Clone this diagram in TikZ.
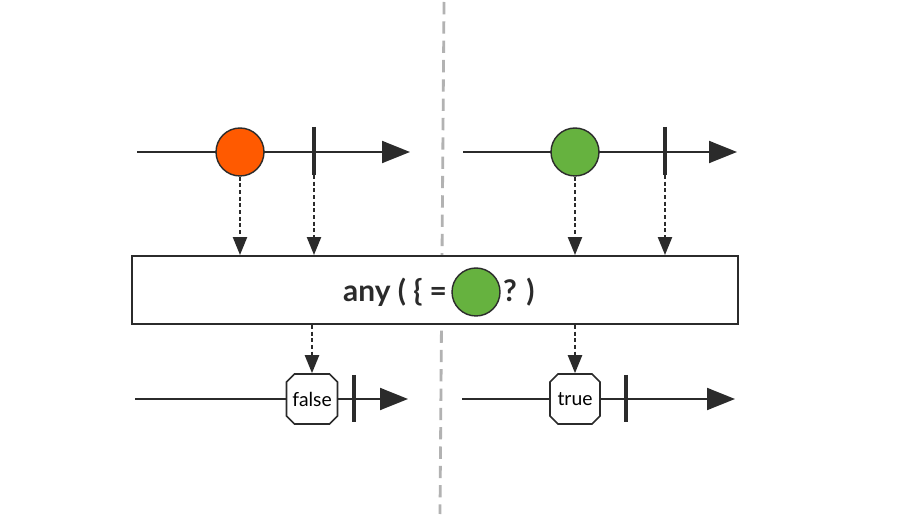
\documentclass[tikz,border=0pt]{standalone}
\usepackage{fontspec}
\setmainfont{Lato}
\usetikzlibrary{arrows.meta,calc,positioning,shapes.misc}
\definecolor{ink}{HTML}{2B2B2B}
\definecolor{marbleOrange}{HTML}{FF5A00}
\definecolor{marbleGreen}{HTML}{66B23F}
\tikzset{
  timeline/.style={ink, line width=1.1pt, -{Triangle[length=0.56cm,width=0.44cm]}},
  marble/.style={circle, draw=ink, line width=0.8pt, minimum size=0.96cm, inner sep=0pt},
  doneTick/.style={ink, line width=2.3pt},
  emit/.style={ink, line width=1.3pt, dash pattern=on 2.2pt off 1.6pt,
    -{Triangle[length=0.36cm,width=0.28cm]}},
  opbox/.style={draw=ink, fill=white, line width=1.1pt, minimum width=12.12cm,
    minimum height=1.36cm, inner sep=0pt},
  optext/.style={font=\fontsize{17}{19}\bfseries\selectfont, text=ink, inner sep=0pt},
  result/.style={chamfered rectangle, chamfered rectangle xsep=0.08cm,
    chamfered rectangle ysep=0.08cm, draw=ink, line width=0.9pt,
    fill=white, minimum width=1cm, minimum height=1cm, inner sep=1pt,
    font=\fontsize{11}{13}\selectfont},
  divider/.style={black!30, line width=1.6pt, dash pattern=on 7pt off 4pt},
}

\begin{document}
\begin{tikzpicture}[x=0.02cm, y=-0.02cm]
  \fill[white] (0,0) rectangle (900,520);
  \useasboundingbox (0,0) rectangle (900,520);

  % divider between the two cases
  \coordinate (divTop) at (444,2);
  \coordinate (divBot) at (440,514);
  \draw[divider] (divTop) -- (divBot);

  % source timelines
  \coordinate (srcA) at (137,152);
  \coordinate (srcAend) at (410,152);
  \coordinate (srcB) at (463,152);
  \coordinate (srcBend) at (737,152);
  \draw[timeline] (srcA) -- (srcAend);
  \draw[timeline] (srcB) -- (srcBend);

  \node[marble, fill=marbleOrange] (mA) at (240,152) {};
  \node[marble, fill=marbleGreen] (mB) at (575,152) {};

  \coordinate (tA) at (314,152);
  \coordinate (tB) at (665,152);
  \draw[doneTick] ($(tA)+(0,-25)$) -- ($(tA)+(0,23)$);
  \draw[doneTick] ($(tB)+(0,-25)$) -- ($(tB)+(0,23)$);

  % operator box
  \node[opbox] (box) at (435,290) {};
  \node[marble, fill=marbleGreen] (qG) at (476,292) {};
  \node[optext, left=0.08cm of qG] (qL) {any ( \{ =};
  \node[optext, right=0.04cm of qG] (qR) {? )};

  \draw[emit] (mA.south) -- (mA.south |- box.north);
  \draw[emit] ($(tA)+(0,23)$) -- (tA |- box.north);
  \draw[emit] (mB.south) -- (mB.south |- box.north);
  \draw[emit] ($(tB)+(0,23)$) -- (tB |- box.north);

  % result timelines
  \coordinate (outA) at (135,399);
  \coordinate (outAend) at (408,399);
  \coordinate (outB) at (462,399);
  \coordinate (outBend) at (735,399);
  \draw[timeline] (outA) -- (outAend);
  \draw[timeline] (outB) -- (outBend);

  \node[result] (rA) at (312,399) {false};
  \node[result] (rB) at (575,399) {true};

  \coordinate (tC) at (354,399);
  \coordinate (tD) at (626,399);
  \draw[doneTick] ($(tC)+(0,-24)$) -- ($(tC)+(0,23)$);
  \draw[doneTick] ($(tD)+(0,-24)$) -- ($(tD)+(0,23)$);

  \draw[emit] (box.south -| rA.north) -- (rA.north);
  \draw[emit] (box.south -| rB.north) -- (rB.north);
\end{tikzpicture}
\end{document}
